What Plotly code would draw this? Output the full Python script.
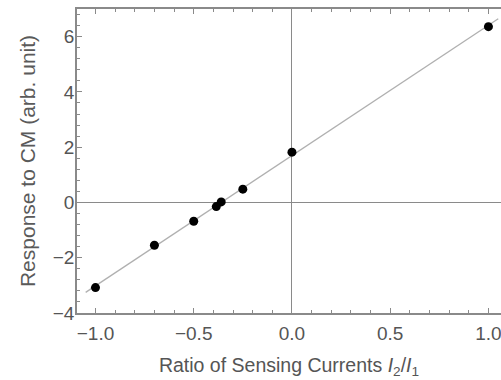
import numpy as np
import plotly.graph_objects as go

ratio = [-1.0, -0.7, -0.5, -0.385, -0.36, -0.25, 0.0, 1.0]
response = [-3.08, -1.55, -0.68, -0.15, 0.02, 0.48, 1.82, 6.36]

slope, intercept = np.polyfit(ratio, response, 1)
fit_x = [-1.05, 1.05]
fit_y = [slope * v + intercept for v in fit_x]

fig = go.Figure()
fig.add_trace(go.Scatter(x=fit_x, y=fit_y, mode="lines",
                         line=dict(color="#b0b0b0", width=1.3), showlegend=False))
fig.add_trace(go.Scatter(x=ratio, y=response, mode="markers",
                         marker=dict(color="black", size=9), showlegend=False))

axis_common = dict(showgrid=False, showline=True, linecolor="#8a8a8a", linewidth=1.5,
                   ticks="inside", tickcolor="#8a8a8a", ticklen=5, tickwidth=1,
                   zeroline=True, zerolinecolor="#8a8a8a", zerolinewidth=1.3,
                   automargin=False, ticklabeloverflow="allow",
                   tickfont=dict(family="Liberation Sans, Arial", size=19, color="#555555"))

fig.update_xaxes(range=[-1.094, 1.064], tickvals=[-1.0, -0.5, 0.0, 0.5, 1.0],
                 ticktext=["\u22121.0", "\u22120.5", "0.0", "0.5", "1.0"],
                 mirror="ticks", ticklabelstandoff=2,
                 minor=dict(dtick=0.1, ticks="inside", ticklen=3, tickcolor="#8a8a8a"),
                 title=dict(text="Ratio of Sensing Currents <i>I</i><sub>2</sub>/<i>I</i><sub>1</sub>",
                            font=dict(family="Liberation Sans, Arial", size=19.5, color="#555555"),
                            standoff=16),
                 **axis_common)
fig.update_yaxes(range=[-4, 7], tickvals=[-4, -2, 0, 2, 4, 6],
                 ticktext=["\u22124", "\u22122", "0", "2", "4", "6"],
                 ticklabelstandoff=-3,
                 minor=dict(dtick=0.4, tick0=0, ticks="inside", ticklen=3, tickcolor="#8a8a8a"),
                 title=dict(text="Response to CM (arb. unit)",
                            font=dict(family="Liberation Sans, Arial", size=21, color="#5a5a5a"),
                            standoff=11),
                 **axis_common)

fig.update_layout(width=501, height=380, margin=dict(l=77, r=0, t=9, b=67),
                  plot_bgcolor="white", paper_bgcolor="white")
fig.write_html("out.html", config={"displayModeBar": False},
               post_script="document.body.style.margin='0';")
